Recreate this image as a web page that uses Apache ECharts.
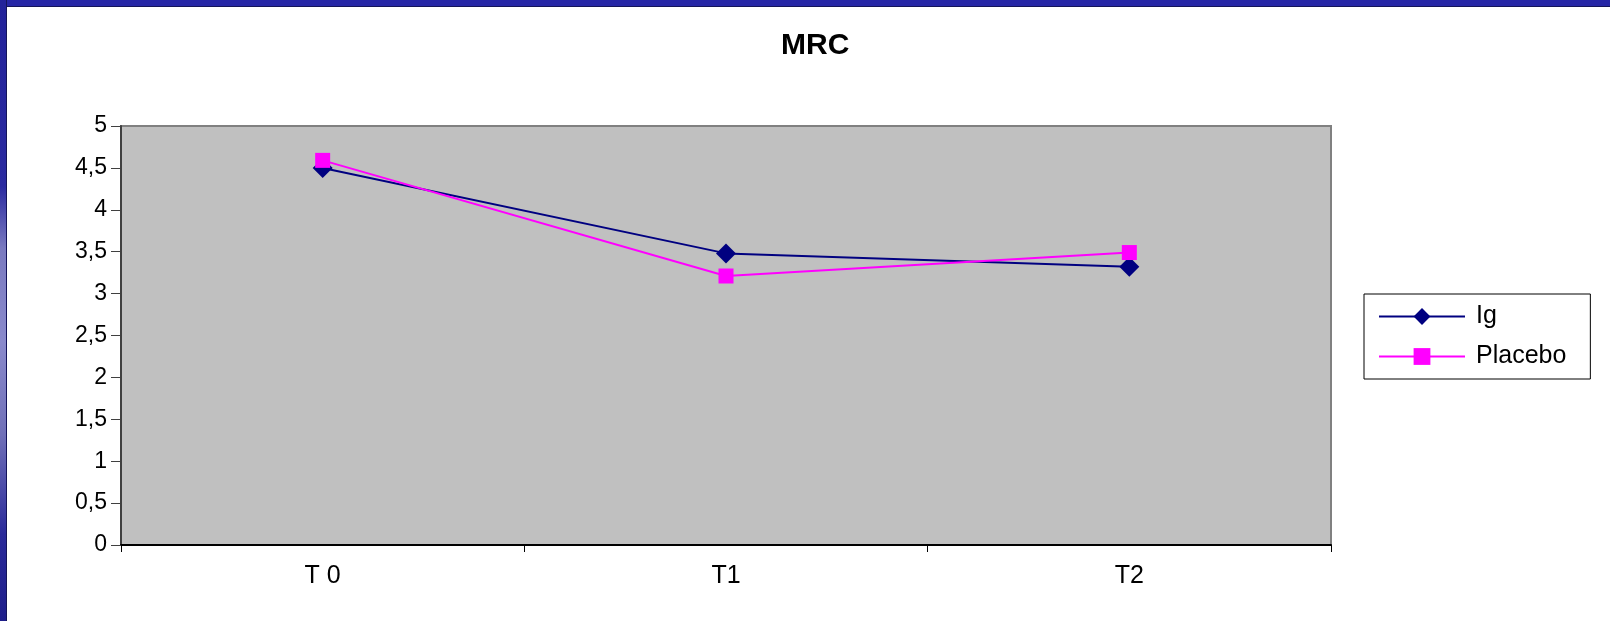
<!DOCTYPE html>
<html>
<head>
<meta charset="utf-8">
<script src="https://cdn.jsdelivr.net/npm/echarts@6/dist/echarts.min.js"></script>
<style>
html,body{margin:0;padding:0;width:1610px;height:621px;overflow:hidden;background:#fff;}
#topbar{position:absolute;left:0;top:0;width:1610px;height:6px;background:#2626a6;border-bottom:1px solid #14145a;}
#leftbar{position:absolute;left:0;top:0;width:6px;height:621px;border-right:1px solid #14145a;
 background:linear-gradient(to bottom,#22229a 0%,#2a2aa0 30%,#7a7ac0 40%,#8a8acc 55%,#7070b8 70%,#2a2a9a 86%,#1e1e8a 100%);}
#chart{position:absolute;left:0;top:0;width:1610px;height:621px;}
</style>
</head>
<body>
<div id="chart"></div>
<div id="topbar"></div>
<div id="leftbar"></div>
<script>
const titleText = 'MRC';
const categories = ['T 0', 'T1', 'T2'];
const seriesNames = ['Ig', 'Placebo'];
const igValues = [4.5, 3.48, 3.32];
const placeboValues = [4.59, 3.21, 3.49];
const yTicks = { min: 0, max: 5, interval: 0.5 };

const font = '"Liberation Sans", Arial, sans-serif';
const chart = echarts.init(document.getElementById('chart'), null, { renderer: 'canvas' });
chart.setOption({
  animation: false,
  backgroundColor: '#ffffff',
  title: {
    text: titleText,
    left: 776,
    top: 26,
    textStyle: { fontFamily: font, fontSize: 30, fontWeight: 'bold', color: '#000' }
  },
  legend: {
    orient: 'vertical',
    left: 1364,
    top: 294,
    padding: [10, 24, 10, 14],
    itemGap: 15,
    itemWidth: 86,
    itemHeight: 21,
    borderColor: '#000',
    borderWidth: 1,
    textStyle: { fontFamily: font, fontSize: 25, color: '#000', padding: [0, 0, 0, 6] },
    data: seriesNames
  },
  grid: {
    left: 121, right: 279, top: 126, bottom: 76,
    show: true,
    backgroundColor: '#c0c0c0',
    borderColor: '#808080',
    borderWidth: 2,
    containLabel: false
  },
  xAxis: {
    type: 'category',
    data: categories,
    boundaryGap: true,
    axisLine: { lineStyle: { color: '#000', width: 2 } },
    axisTick: { show: true, inside: false, length: 7, alignWithLabel: false, lineStyle: { color: '#000', width: 1 } },
    axisLabel: { fontFamily: font, fontSize: 25, color: '#000', margin: 19 },
    splitLine: { show: false }
  },
  yAxis: {
    type: 'value',
    min: yTicks.min,
    max: yTicks.max,
    interval: yTicks.interval,
    axisLine: { show: true, lineStyle: { color: '#404040', width: 2 } },
    axisTick: { show: true, length: 10, lineStyle: { color: '#404040', width: 1 } },
    axisLabel: {
      fontFamily: font, fontSize: 23, color: '#000', margin: 14,
      formatter: v => String(v).replace('.', ',')
    },
    splitLine: { show: false }
  },
  series: [
    {
      name: seriesNames[0], type: 'line', data: igValues,
      symbol: 'diamond', symbolSize: 20,
      lineStyle: { color: '#000080', width: 2 },
      itemStyle: { color: '#000080' },
      z: 2
    },
    {
      name: seriesNames[1], type: 'line', data: placeboValues,
      symbol: 'rect', symbolSize: 15,
      lineStyle: { color: '#ff00ff', width: 2 },
      itemStyle: { color: '#ff00ff' },
      z: 3
    }
  ]
});
</script>
</body>
</html>
